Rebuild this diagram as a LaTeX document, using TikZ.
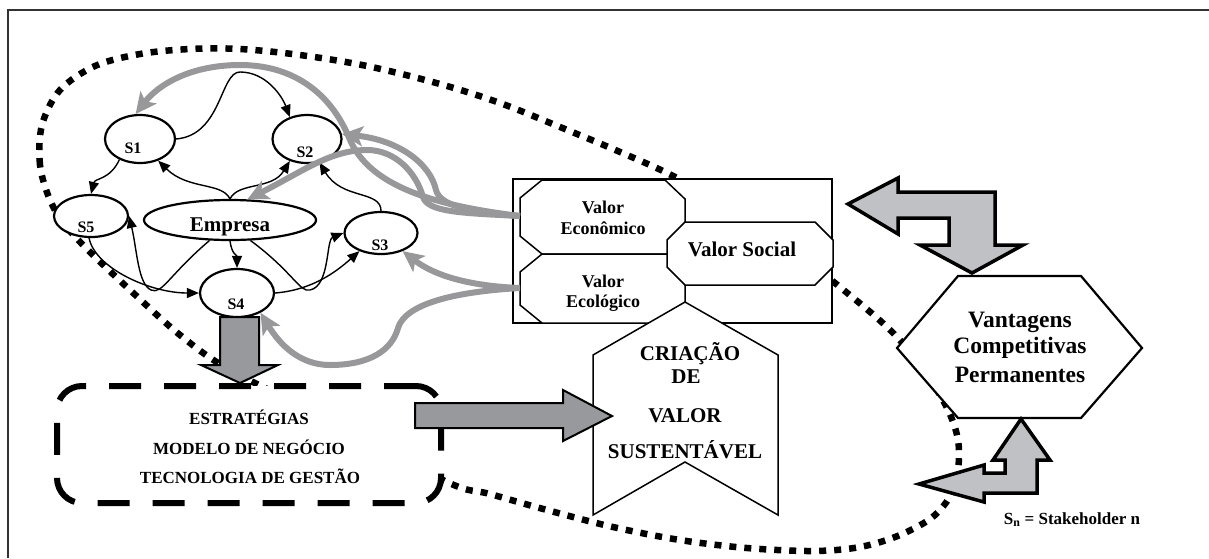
\documentclass[tikz,border=0pt]{standalone}
\usepackage{fontspec}
\setmainfont{Liberation Serif}
\usetikzlibrary{arrows.meta,shapes.geometric}
\newcommand{\fsz}[1]{\fontsize{#1pt}{#1pt}\selectfont\bfseries}

\definecolor{linkgray}{RGB}{152,152,154}
\definecolor{blockdark}{RGB}{152,153,156}
\definecolor{blocklight}{RGB}{192,193,197}

\tikzset{
  stake/.style={ellipse, draw, line width=2.2pt, fill=white, inner sep=0pt},
  rel/.style={line width=1.4pt, -{Triangle[length=12pt,width=10pt]}},
  flow/.style={draw=linkgray, line width=6pt, -{Stealth[length=21pt,width=20pt,inset=5pt]}},
  loopdot/.style={line width=6.5pt, dash pattern=on 7pt off 8pt},
  lbl/.style={inner sep=0pt, anchor=base},
  plate/.style={draw, line width=1.5pt, fill=white, line join=miter},
  blockdk/.style={draw, fill=blockdark, line width=2pt, line join=miter},
  blocklt/.style={draw, fill=blocklight, line width=3.5pt, line join=miter}
}

\begin{document}
\begin{tikzpicture}[x=1pt,y=-1pt]
\useasboundingbox (0,0) rectangle (1209,558);

% frame
\draw[line width=2pt, black!80] (8,558) -- (8,10) -- (1209,10);

% dotted boundary of the stakeholder network
\draw[loopdot] plot[smooth cycle, tension=0.55] coordinates {
  (50,200) (40,165) (42,125) (60,90) (95,66) (140,54) (190,49) (240,49)
  (300,55) (367,66) (440,84) (500,103) (560,127) (620,152) (677,178)
  (760,225) (835,283) (897,337) (940,395) (958,440) (955,485) (935,515)
  (900,535) (860,547) (813,551) (747,548) (680,540) (613,527) (547,510)
  (490,494) (447,482) (330,420) (230,370) (180,335) (130,290) (90,252) (65,225)};

% strategy box
\node[draw, line width=6pt, dash pattern=on 32pt off 23pt, rounded corners=25pt,
      fill=white, minimum width=384pt, minimum height=117pt] (strat) at (249,444.5) {};
\node[lbl, font={\fsz{17}}] (st1) at (249,424) {ESTRATÉGIAS};
\node[lbl, font={\fsz{17}}] (st2) at (249,454) {MODELO DE NEGÓCIO};
\node[lbl, font={\fsz{17}}] (st3) at (250,483) {TECNOLOGIA DE GESTÃO};

% value box with its three plates
\node[draw, line width=1.5pt, fill=white, minimum width=319pt, minimum height=144pt, inner sep=0pt] (vbox) at (672.5,251) {};
\draw[plate] (542,180) -- (665,180) -- (685,199) -- (685,235) -- (667,254) -- (542,254) -- (520,236) -- (520,198) -- cycle;
\draw[plate] (542,254) -- (667,254) -- (685,272) -- (685,305) -- (665,323) -- (542,323) -- (520,305) -- (520,272) -- cycle;
\draw[plate] (685,222) -- (815,222) -- (833,240) -- (833,267) -- (815,285) -- (685,285) -- (667,267) -- (667,240) -- cycle;
\coordinate (VE) at (520,216);
\coordinate (VL) at (520,288);
\node[lbl, font={\fsz{18}}] (ve1) at (603,213) {Valor};
\node[lbl, font={\fsz{18}}] (ve2) at (603,234) {Econômico};
\node[lbl, font={\fsz{18}}] (vl1) at (603,287) {Valor};
\node[lbl, font={\fsz{18}}] (vl2) at (603,307) {Ecológico};
\node[lbl, font={\fsz{21}}] (vs) at (742,256) {Valor Social};

% sustainable value chevron
\draw[plate] (685,302) -- (778,355) -- (778,515) -- (685,462) -- (593,515) -- (593,355) -- cycle;
\node[lbl, font={\fsz{21}}] (cv1) at (690,360) {CRIAÇÃO};
\node[lbl, font={\fsz{21}}] (cv2) at (686,383) {DE};
\node[lbl, font={\fsz{21}}] (cv3) at (685,422) {VALOR};
\node[lbl, font={\fsz{21}}] (cv4) at (685,458) {SUSTENTÁVEL};

% competitive advantage hexagon
\draw[draw, line width=2.2pt, fill=white, line join=miter]
  (897,348) -- (958,276) -- (1081,276) -- (1142,348) -- (1081,418) -- (958,418) -- cycle;
\node[lbl, font={\fsz{23.5}}] (va1) at (1020,327) {Vantagens};
\node[lbl, font={\fsz{23.5}}] (va2) at (1020,353) {Competitivas};
\node[lbl, font={\fsz{23.5}}] (va3) at (1020,382) {Permanentes};

% stakeholders around the company
\node[stake, minimum width=70pt, minimum height=48pt] (S1) at (140,139) {};
\node[stake, minimum width=69pt, minimum height=48pt] (S2) at (307,139) {};
\node[stake, minimum width=74pt, minimum height=42pt] (S5) at (91,216) {};
\node[stake, minimum width=172pt, minimum height=40pt] (E) at (230,220) {};
\node[stake, minimum width=73pt, minimum height=42pt] (S3) at (381,233) {};
\node[stake, minimum width=74pt, minimum height=48pt] (S4) at (237,293) {};

\node[lbl, font={\fsz{16}}] (tS1) at (133,153) {S1};
\node[lbl, font={\fsz{16}}] (tS2) at (305,157) {S2};
\node[lbl, font={\fsz{16}}] (tS5) at (86,232) {S5};
\node[lbl, font={\fsz{16}}] (tS3) at (380,250) {S3};
\node[lbl, font={\fsz{16}}] (tS4) at (236,309) {S4};
\node[lbl, font={\fsz{21}}] (tE) at (230,231) {Empresa};

% relations among the stakeholders
\draw[rel] (S1.east) .. controls (222,135) and (220,72) .. (240,72)
                     .. controls (266,72) and (282,96) .. (S2.128);
\draw[rel] (E.north) .. controls (222,182) and (188,190) .. (S1.-50);
\draw[rel] (E.north) .. controls (238,182) and (272,190) .. (S2.-128);
\draw[rel] (S1.-135) .. controls (110,180) and (95,178) .. (S5.north);
\draw[rel] (E.south) .. controls (232,255) and (237,255) .. (S4.north);
\draw[rel] (S3.north) .. controls (381,190) and (342,200) .. (S2.-62);
\draw[rel] (S5.-95) .. controls (95,268) and (150,293) .. (S4.west);
\draw[rel] (E.-135) .. controls (169,275) and (162,295) .. (151,290)
                    .. controls (138,284) and (137,250) .. (S5.east);
\draw[rel] (E.-45) .. controls (293,272) and (300,293) .. (310,290)
                   .. controls (330,286) and (326,240) .. (S3.west);
\draw[rel] (S4.east) .. controls (312,290) and (336,272) .. (S3.-140);

% value flows back to the stakeholders
\draw[flow] (VE) .. controls (430,205) and (370,185) .. (350,140)
                 .. controls (330,90) and (290,65) .. (240,65)
                 .. controls (190,65) and (158,85) .. (S1.100);
\draw[flow] (VE) .. controls (470,212) and (440,206) .. (436,190)
                 .. controls (430,163) and (398,140) .. (S2.8);
\draw[flow] (VE) .. controls (460,213) and (428,212) .. (423,197)
                 .. controls (416,172) and (395,150) .. (367,150)
                 .. controls (330,150) and (302,172) .. (E.50);
\draw[flow] (VL) .. controls (470,286) and (435,276) .. (S3.-40);
\draw[flow] (VL) .. controls (450,292) and (405,305) .. (398,328)
                 .. controls (392,350) and (370,365) .. (330,365)
                 .. controls (300,365) and (280,345) .. (S4.-40);

% block arrows
\draw[blockdk] (220,317) -- (259,317) -- (259,365) -- (278,365) -- (240,383)
               -- (201,365) -- (220,365) -- cycle;
\draw[blockdk] (415,403) -- (563,403) -- (563,390) -- (612,416) -- (563,441)
               -- (563,428) -- (415,428) -- cycle;
\draw[blocklt] (848,204) -- (898,178) -- (898,192) -- (995,192) -- (995,245)
               -- (1023,245) -- (972,273) -- (920,245) -- (949,245) -- (949,218)
               -- (898,218) -- (898,234) -- cycle;
\draw[blocklt] (1021,419) -- (1050,460) -- (1037,460) -- (1037,493) -- (984,493)
               -- (984,502) -- (919,484) -- (984,465) -- (984,473) -- (1005,473)
               -- (1005,460) -- (993,460) -- cycle;

% legend
\node[lbl, font={\fsz{17}}] (leg) at (1072,524) {S\textsubscript{n} = Stakeholder n};
\end{tikzpicture}
\end{document}
